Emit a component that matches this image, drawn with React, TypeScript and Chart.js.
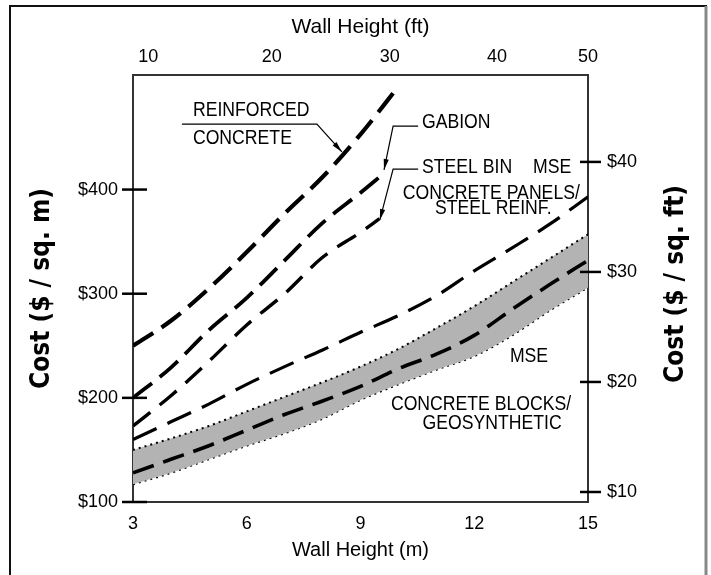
import React, { useEffect, useRef } from "react";
import { Chart, registerables } from "chart.js";

Chart.register(...registerables);

// ---- data ----
const heightsFull = [3, 4, 5, 6, 7, 8, 9, 10, 11, 12, 13, 14, 15];
const rcHeights = [3, 4, 5, 6, 7, 8, 9, 10];
const rcCost = [250, 274, 305, 340, 377, 412, 453, 499];
const gabionHeights = [3, 4, 5, 6, 7, 8, 9, 9.6];
const gabionCost = [200, 229, 265, 296, 332, 368, 397, 415];
const steelBinHeights = [3, 4, 5, 6, 7, 8, 9, 9.5];
const steelBinCost = [173, 202, 235, 270, 300, 335, 359, 372];
const msePanelCost = [160, 177, 194, 213, 230, 246, 263, 279, 298, 322, 344, 367, 393];
const mseBlockCost = [128, 141, 154, 169, 184, 197, 211, 228, 242, 260, 285, 309, 332];
const mseBlockUpper = [150, 161, 173, 187, 201, 215, 230, 247, 267, 288, 311, 334, 357];
const mseBlockLower = [117, 128, 141, 154, 166, 180, 198, 213, 227, 240, 260, 284, 306];

const bottomTicksM = [3, 6, 9, 12, 15];
const leftTicks = [100, 200, 300, 400];
const rightTicks = [10, 20, 30, 40];
const topTickLabels = ["10", "20", "30", "40", "50"];
const topTickPosM = [3.4, 6.66, 9.77, 12.6, 15];

// annotation texts (data coordinates: metres, $/m2)
const annotations = [
  { text: "REINFORCED", x: 4.58, y: 476.4, align: "left" },
  { text: "CONCRETE", x: 4.58, y: 449.5, align: "left" },
  { text: "GABION", x: 10.62, y: 464.9, align: "left" },
  { text: "STEEL BIN", x: 10.62, y: 421.7, align: "left" },
  { text: "MSE", x: 13.55, y: 421.7, align: "left" },
  { text: "CONCRETE PANELS/", x: 12.45, y: 396.7, align: "center" },
  { text: "STEEL REINF.", x: 12.5, y: 382.3, align: "center" },
  { text: "MSE", x: 12.94, y: 240.2, align: "left" },
  { text: "CONCRETE BLOCKS/", x: 12.18, y: 194.1, align: "center" },
  { text: "GEOSYNTHETIC", x: 12.47, y: 175.9, align: "center" },
];
const leaders = [
  [[4.29, 462.9], [7.85, 462.9], [8.51, 436.1]],
  [[10.52, 461.0], [9.86, 461.0], [9.62, 418.8]],
  [[10.52, 419.7], [9.86, 419.7], [9.51, 370.8]],
];

const REG = "'Liberation Sans', Arial, sans-serif";
const BOLDC = "'DejaVu Sans Condensed', 'DejaVu Sans', sans-serif";

const pts = (xs: number[], ys: number[]) => xs.map((x, i) => ({ x, y: ys[i] }));

const decor = {
  id: "decor",
  beforeDraw(chart: any) {
    const ctx = chart.ctx;
    ctx.save();
    ctx.strokeStyle = "#111";
    ctx.lineWidth = 2;
    ctx.beginPath();
    ctx.moveTo(10, 575);
    ctx.lineTo(10, 6);
    ctx.lineTo(707, 6);
    ctx.stroke();
    ctx.strokeStyle = "#888";
    ctx.lineWidth = 3;
    ctx.beginPath();
    ctx.moveTo(706, 6);
    ctx.lineTo(706, 575);
    ctx.stroke();
    ctx.restore();
  },
  afterDraw(chart: any) {
    const ctx = chart.ctx;
    const { x, y, y2 } = chart.scales;
    ctx.save();
    // tick marks crossing the side axes
    ctx.strokeStyle = "#000";
    ctx.lineWidth = 2.5;
    y.ticks.forEach((t: any) => {
      const py = y.getPixelForValue(t.value);
      ctx.beginPath();
      ctx.moveTo(y.right - 11, py);
      ctx.lineTo(y.right + 14, py);
      ctx.stroke();
    });
    y2.ticks.forEach((t: any) => {
      const py = y2.getPixelForValue(t.value);
      ctx.beginPath();
      ctx.moveTo(y2.left - 8, py);
      ctx.lineTo(y2.left + 13, py);
      ctx.stroke();
    });
    // leader lines with arrow heads
    ctx.lineWidth = 1.2;
    leaders.forEach((ln) => {
      const p = ln.map(([mx, my]) => [x.getPixelForValue(mx), y.getPixelForValue(my)]);
      ctx.beginPath();
      ctx.moveTo(p[0][0], p[0][1]);
      for (let i = 1; i < p.length; i++) ctx.lineTo(p[i][0], p[i][1]);
      ctx.stroke();
      const a = p[p.length - 2];
      const b = p[p.length - 1];
      const ang = Math.atan2(b[1] - a[1], b[0] - a[0]);
      const L = 11;
      const W = 2.6;
      ctx.beginPath();
      ctx.moveTo(b[0], b[1]);
      ctx.lineTo(b[0] - L * Math.cos(ang) + W * Math.sin(ang), b[1] - L * Math.sin(ang) - W * Math.cos(ang));
      ctx.lineTo(b[0] - L * Math.cos(ang) - W * Math.sin(ang), b[1] - L * Math.sin(ang) + W * Math.cos(ang));
      ctx.closePath();
      ctx.fillStyle = "#000";
      ctx.fill();
    });
    // annotation texts (condensed by horizontal scaling)
    ctx.fillStyle = "#000";
    ctx.font = `21px ${REG}`;
    ctx.textBaseline = "middle";
    annotations.forEach((a) => {
      ctx.save();
      ctx.translate(x.getPixelForValue(a.x), y.getPixelForValue(a.y));
      ctx.scale(0.84, 1);
      ctx.textAlign = a.align as CanvasTextAlign;
      ctx.fillText(a.text, 0, 0);
      ctx.restore();
    });
    // right axis title (reads bottom to top)
    ctx.translate(676, 284);
    ctx.rotate(-Math.PI / 2);
    ctx.font = `bold 26px ${BOLDC}`;
    ctx.textAlign = "center";
    ctx.fillText("Cost ($ / sq. ft)", 0, 0);
    ctx.restore();
  },
};

export default function App() {
  const ref = useRef<HTMLCanvasElement | null>(null);
  useEffect(() => {
    if (!ref.current) return;
    const lineBase = {
      borderColor: "#000",
      pointRadius: 0,
      fill: false,
      cubicInterpolationMode: "monotone" as const,
      borderCapStyle: "butt" as const,
    };
    const chart = new Chart(ref.current, {
      type: "line",
      data: {
        datasets: [
          { ...lineBase, label: "Reinforced concrete", data: pts(rcHeights, rcCost), borderWidth: 4.2, borderDash: [24, 10] },
          { ...lineBase, label: "Gabion", data: pts(gabionHeights, gabionCost), borderWidth: 3.8, borderDash: [24, 10] },
          { ...lineBase, label: "Steel bin", data: pts(steelBinHeights, steelBinCost), borderWidth: 3.4, borderDash: [22, 12] },
          { ...lineBase, label: "MSE concrete panels / steel reinf.", data: pts(heightsFull, msePanelCost), borderWidth: 3.2, borderDash: [26, 12] },
          { ...lineBase, label: "MSE concrete blocks / geosynthetic", data: pts(heightsFull, mseBlockCost), borderWidth: 3.6, borderDash: [22, 10] },
          { ...lineBase, label: "MSE blocks upper", data: pts(heightsFull, mseBlockUpper), borderWidth: 2, borderDash: [2, 4], fill: "+1", backgroundColor: "#b3b3b3" },
          { ...lineBase, label: "MSE blocks lower", data: pts(heightsFull, mseBlockLower), borderWidth: 2, borderDash: [2, 4] },
        ],
      },
      options: {
        responsive: false,
        maintainAspectRatio: false,
        animation: false,
        layout: { padding: 0 },
        plugins: { legend: { display: false }, tooltip: { enabled: false } },
        scales: {
          x: {
            type: "linear",
            position: "bottom",
            min: 3,
            max: 15,
            afterBuildTicks: (s: any) => { s.ticks = bottomTicksM.map((v) => ({ value: v })); },
            afterFit: (s: any) => { s.height = 73; },
            grid: { display: false, drawTicks: false, tickLength: 0 },
            border: { display: true, color: "#333", width: 2 },
            ticks: { color: "#000", font: { family: REG, size: 18 }, padding: 11, autoSkip: false, maxRotation: 0, minRotation: 0 },
            title: { display: true, text: "Wall Height (m)", color: "#000", font: { family: REG, size: 20 }, padding: { top: 0, bottom: 13 } },
          },
          x2: {
            type: "linear",
            position: "top",
            min: 3,
            max: 15,
            afterBuildTicks: (s: any) => { s.ticks = topTickPosM.map((v) => ({ value: v })); },
            afterFit: (s: any) => { s.height = 75; },
            grid: { display: false, drawTicks: false, tickLength: 0 },
            border: { display: true, color: "#333", width: 2 },
            ticks: {
              color: "#000",
              font: { family: REG, size: 18 },
              padding: 7,
              autoSkip: false,
              maxRotation: 0,
              minRotation: 0,
              callback: (_v: any, i: number) => topTickLabels[i],
            },
            title: { display: true, text: "Wall Height (ft)", color: "#000", font: { family: REG, size: 21 }, padding: { top: 15, bottom: 0 } },
          },
          y: {
            type: "linear",
            position: "left",
            min: 100,
            max: 510,
            afterBuildTicks: (s: any) => { s.ticks = leftTicks.map((v) => ({ value: v })); },
            afterFit: (s: any) => { s.width = 133; },
            grid: { display: false, drawTicks: false, tickLength: 0 },
            border: { display: true, color: "#333", width: 2 },
            ticks: { color: "#000", font: { family: REG, size: 18 }, padding: 15, autoSkip: false, callback: (v: any) => "$" + v },
            title: { display: true, text: "Cost ($ / sq. m)", color: "#000", font: { family: BOLDC, size: 26, weight: "bold" }, padding: { top: 26.4, bottom: 0 } },
          },
          y2: {
            type: "linear",
            position: "right",
            min: 9.09,
            max: 47.9,
            afterBuildTicks: (s: any) => { s.ticks = rightTicks.map((v) => ({ value: v })); },
            afterFit: (s: any) => { s.width = 123; },
            grid: { display: false, drawTicks: false, tickLength: 0 },
            border: { display: true, color: "#333", width: 2 },
            ticks: { color: "#000", font: { family: REG, size: 18 }, padding: 19, autoSkip: false, callback: (v: any) => "$" + v },
          },
        },
      },
      plugins: [decor],
    } as any);
    return () => chart.destroy();
  }, []);
  return (
    <div style={{ position: "absolute", left: 0, top: 0, width: 711, height: 575, background: "#fff" }}>
      <canvas ref={ref} width={711} height={575} style={{ display: "block" }} />
    </div>
  );
}
